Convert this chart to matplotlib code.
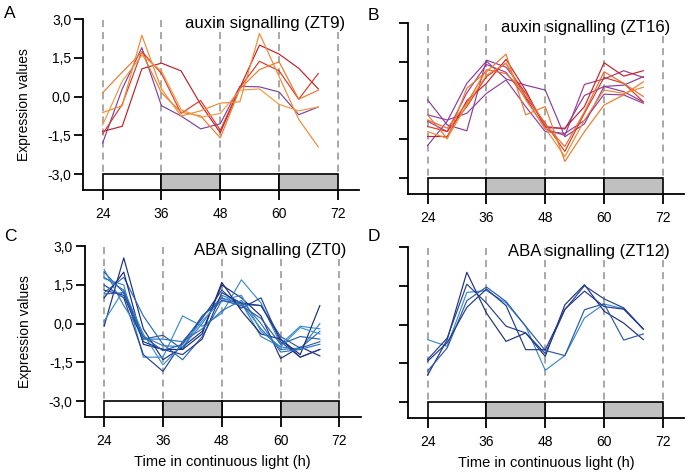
import matplotlib
matplotlib.use("Agg")
import matplotlib.pyplot as plt
from matplotlib.patches import Rectangle

plt.rcParams['font.family'] = ['Liberation Sans', 'DejaVu Sans']

# ---- data ----
hours = [24, 28, 32, 36, 40, 44, 48, 52, 56, 60, 64, 68]
xticks = [24, 36, 48, 60, 72]
yticks = [3.0, 1.5, 0.0, -1.5, -3.0]
ytick_labels = ["3,0", "1,5", "0,0", "-1,5", "-3,0"]
dark_periods = [(36, 48), (60, 72)]
light_periods = [(24, 36), (48, 60)]

titles = ["auxin signalling (ZT9)", "auxin signalling (ZT16)",
          "ABA signalling (ZT0)", "ABA signalling (ZT12)"]
letters = ["A", "B", "C", "D"]

panel_a = [
    [-1.80, 0.30, 1.90, -0.35, -0.75, -1.25, -1.05, 0.40, 0.38, 0.18, -0.70, -0.40],
    [-1.35, -1.15, 1.08, 1.30, 1.00, -0.30, -1.40, 0.35, 2.00, 1.65, 1.10, 0.30],
    [-1.45, -0.30, 1.75, 0.90, -0.65, -0.15, -1.30, 0.35, 1.37, 1.00, -0.10, 0.90],
    [0.15, 0.95, 1.72, 0.15, -0.60, -0.75, -1.60, 0.30, 1.05, 1.35, -0.10, 0.25],
    [-0.62, -0.35, 2.38, 0.30, -0.75, -0.55, -0.25, -0.20, 2.45, 0.78, -0.88, -1.95],
    [-1.10, 0.60, 1.60, 1.00, -0.50, -0.80, -0.65, 0.25, 0.30, -0.30, -0.55, -0.40],
]
colors_a = ['#8040a0', '#c0202a', '#d83a2a', '#f07828', '#f08a30', '#f09a40']

panel_b = [
    [0.03, -0.94, -1.17, 1.57, 1.30, 0.30, -1.00, -1.10, 0.20, 0.55, 0.60, 0.93],
    [-1.74, -0.80, 0.67, 1.53, 0.84, 0.60, 0.41, -1.40, -0.90, 0.55, 0.35, -0.05],
    [-0.55, -0.75, -0.49, 0.28, 0.80, -0.23, -1.20, -1.27, -0.77, 0.25, 0.22, -0.10],
    [-0.80, -1.20, 0.30, 1.40, 1.10, 0.10, -1.10, -1.35, 0.63, 0.84, 1.16, 0.90],
    [-1.39, -1.39, 0.00, 0.67, 1.60, 0.40, -1.05, -1.07, -0.23, 1.47, 0.95, 1.16],
    [-1.00, -1.20, -0.23, 0.93, 1.45, 0.15, -0.88, -1.97, -0.49, 0.90, 0.67, -0.04],
    [-0.55, -1.48, 0.48, 1.12, 1.80, -0.55, -0.23, -2.36, -1.20, -0.17, 0.22, 0.73],
    [-1.20, -1.46, -0.16, 0.99, 1.45, 0.03, -1.07, -2.17, -0.75, 0.41, 0.28, 0.52],
    [-0.75, -1.07, -0.10, 1.20, 1.05, 0.28, -0.94, -1.78, -0.43, 1.12, 0.67, 0.16],
]
colors_b = ['#8a3d9a', '#8a3d9a', '#9040a0', '#a03a8a', '#c8202a',
            '#d83a2a', '#f07828', '#f08a30', '#f06a28']

panel_c = [
    [2.00, 1.20, -0.60, -0.45, -1.00, 0.30, 1.00, 0.75, 0.70, -0.50, -0.95, -0.70],
    [-0.10, 2.55, -0.20, -1.40, -0.90, -0.30, 1.50, 1.00, 0.30, -1.35, -0.90, -1.25],
    [1.75, 1.50, -1.30, -1.30, 0.30, -0.10, 0.40, 1.70, 0.80, -0.80, -0.10, -0.20],
    [1.50, 1.00, -1.20, -1.85, -0.70, 0.20, 1.30, 0.60, 1.00, -0.70, -1.30, -1.00],
    [1.20, 1.80, 0.30, -0.80, -1.40, -0.50, 0.90, 0.80, -0.20, -1.00, -0.95, -0.30],
    [2.10, 0.70, -0.50, -0.85, -0.90, 0.00, 1.10, 0.80, -0.50, -0.90, -1.00, 0.00],
    [1.00, 2.00, -0.80, -1.00, -1.00, -0.40, 1.60, 0.50, -0.40, -0.60, -1.20, 0.70],
    [0.10, 1.30, -0.40, -1.60, -0.80, 0.10, 0.90, 1.10, -0.30, -0.90, -0.15, -0.40],
    [1.30, 1.10, -0.70, -1.00, -1.20, -0.60, 1.20, 0.80, 0.70, -0.60, -1.30, -1.00],
    [1.80, 1.30, -0.60, -0.60, -0.70, -0.20, 0.50, 0.90, 0.00, -1.10, -1.00, -0.80],
    [1.15, 1.20, -0.50, -1.05, -0.80, 0.30, 0.90, 0.70, 0.20, -0.80, -0.50, -0.60],
]
colors_c = ['#2a5aa8', '#1e2f80', '#3a8ccc', '#24408f', '#2c6ab4', '#3480c4',
            '#1c2a78', '#3a90d0', '#22388a', '#2f74bc', '#2860ac']

panel_d = [
    [-0.58, -0.84, 1.25, 1.32, 0.84, -0.06, -1.77, -1.20, 0.26, 0.80, 0.62, -0.17],
    [-1.96, -0.58, 2.03, 0.45, -0.65, -0.32, -1.23, 0.77, 1.55, 0.52, 0.06, -0.58],
    [-1.35, -0.52, 1.57, 0.84, -0.06, -0.32, -1.12, 0.58, 1.51, 1.00, 0.65, -0.17],
    [-1.80, -0.90, 0.93, 1.46, 0.90, -0.06, -1.00, -1.20, 0.58, 0.81, -0.60, -0.36],
    [-1.42, -0.70, 0.67, 1.38, 0.74, -0.97, -0.97, 0.60, 1.30, 0.70, 0.60, -0.17],
]
colors_d = ['#3a8ccc', '#1e2f80', '#24408f', '#2a5aa8', '#22388a']

panels = [(panel_a, colors_a), (panel_b, colors_b), (panel_c, colors_c), (panel_d, colors_d)]

# ---- figure ----
fig = plt.figure(figsize=(6.9, 4.75), dpi=100)
positions = [
    (0.1203, 0.600, 0.400, 0.3594),
    (0.5913, 0.5916, 0.400, 0.3594),
    (0.1225, 0.1221, 0.400, 0.3594),
    (0.5913, 0.1200, 0.400, 0.3594),
]
letter_pos = [(0.006, 0.988), (0.533, 0.984), (0.006, 0.518), (0.533, 0.518)]

for i, ((series, cols), pos) in enumerate(zip(panels, positions)):
    ax = fig.add_axes(pos)
    ax.set_xlim(20.0, 76.3)
    ax.set_ylim(-3.62, 3.0)
    for s in ['top', 'right']:
        ax.spines[s].set_visible(False)
    for s in ['left', 'bottom']:
        ax.spines[s].set_linewidth(1.3)

    # dashed vertical lines
    for xt in xticks:
        ax.plot([xt, xt], [2.97, -3.0], color='#a8a8a8', lw=1.4,
                linestyle=(0, (3.6, 2.6)), zorder=1)

    for vals, c in zip(series, cols):
        ax.plot(hours, vals, color=c, lw=0.85, zorder=3)

    # light/dark bar
    for (a, b) in light_periods:
        ax.add_patch(Rectangle((a, -3.62), b - a, 0.62, facecolor='white',
                               edgecolor='black', lw=1.2, zorder=4, clip_on=False))
    for (a, b) in dark_periods:
        ax.add_patch(Rectangle((a, -3.62), b - a, 0.62, facecolor='#c0c0c0',
                               edgecolor='black', lw=1.2, zorder=4, clip_on=False))

    ax.set_xticks(xticks)
    ax.set_xticklabels([str(x) for x in xticks], fontsize=10)
    ax.set_yticks(yticks)
    if i in (0, 2):
        ax.set_yticklabels(ytick_labels, fontsize=10)
        ax.set_ylabel("Expression values", fontsize=10, labelpad=12)
    else:
        ax.set_yticklabels([])
    ax.tick_params(axis='x', direction='out', length=7.2, width=1.3, pad=5)
    ax.tick_params(axis='y', direction='out', length=6.5, width=1.3, pad=2)
    if i in (2, 3):
        ax.set_xlabel("Time in continuous light (h)", fontsize=10.5, labelpad=5)

    ax.text(73.4, 2.85, titles[i], ha='right', va='center', fontsize=12,
            clip_on=False, zorder=5)
    fig.text(letter_pos[i][0], letter_pos[i][1], letters[i], ha='left', va='top',
             fontsize=12.5)

fig.savefig("out.png", dpi=100)
